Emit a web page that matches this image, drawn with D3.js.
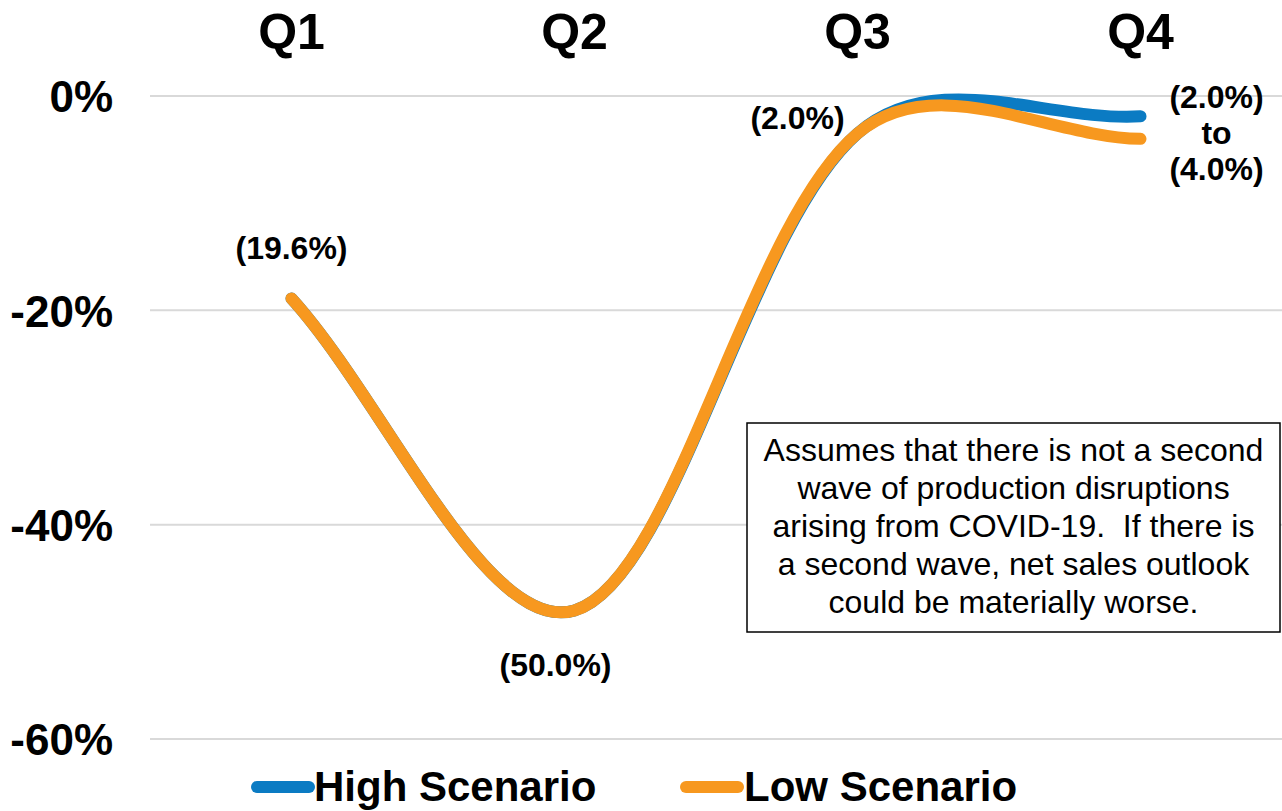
<!DOCTYPE html>
<html>
<head>
<meta charset="utf-8">
<script src="https://cdn.jsdelivr.net/npm/d3@7"></script>
<style>
  html, body { margin: 0; padding: 0; background: #fff; }
  svg { display: block; font-family: "Liberation Sans", Arial, sans-serif; }
</style>
</head>
<body>
<svg id="chart" width="1282" height="811"></svg>
<script>
// ---- data ----
const quarters = ["Q1", "Q2", "Q3", "Q4"];
const highScenario = [-0.189, -0.480, -0.035, -0.019];
const lowScenario  = [-0.189, -0.480, -0.035, -0.040];
const yTicks = [0, -0.2, -0.4, -0.6];
const seriesNames = ["High Scenario", "Low Scenario"];
const seriesColors = ["#0B7BC3", "#F7981F"];
const pointLabels = ["(19.6%)", "(50.0%)", "(2.0%)"];
const endLabels = ["(2.0%)", "to", "(4.0%)"];
const noteLines = [
  "Assumes that there is not a second",
  "wave of production disruptions",
  "arising from COVID-19.  If there is",
  "a second wave, net sales outlook",
  "could be materially worse."
];

// ---- spreadsheet-style smoothed line as a d3 curve factory ----
function SmoothCurve(context) { this._context = context; }
SmoothCurve.prototype = {
  areaStart() { this._line = 0; },
  areaEnd() { this._line = NaN; },
  lineStart() { this._pts = []; },
  point(x, y) { this._pts.push([+x, +y]); },
  lineEnd() {
    const p = this._pts, n = p.length, c = this._context;
    if (!n) return;
    const dist = (a, b) => Math.sqrt(Math.hypot(b[0] - a[0], b[1] - a[1]));
    c.moveTo(p[0][0], p[0][1]);
    for (let i = 0; i < n - 1; i++) {
      const p0 = p[i - 1] || p[i], p1 = p[i], p2 = p[i + 1], p3 = p[i + 2] || p[i + 1];
      const d01 = dist(p0, p1), d12 = dist(p1, p2), d23 = dist(p2, p3);
      const f1 = d01 + d12 > 0 ? (1 / 3) * d12 / (d01 + d12) : 0;
      const f2 = d12 + d23 > 0 ? (1 / 3) * d12 / (d12 + d23) : 0;
      c.bezierCurveTo(
        p1[0] + (p2[0] - p0[0]) * f1, p1[1] + (p2[1] - p0[1]) * f1,
        p2[0] - (p3[0] - p1[0]) * f2, p2[1] - (p3[1] - p1[1]) * f2,
        p2[0], p2[1]);
    }
  }
};
const curveSmooth = ctx => new SmoothCurve(ctx);

// ---- chart ----
const svg = d3.select("#chart");
const x = d3.scaleBand().domain(quarters).range([150, 1282]).padding(0);
const y = d3.scaleLinear().domain([-0.6, 0]).range([739, 96]);
const cx = q => x(q) + x.bandwidth() / 2;

// gridlines
svg.append("g").selectAll("line").data(yTicks).join("line")
  .attr("x1", 150).attr("x2", 1282)
  .attr("y1", d => y(d)).attr("y2", d => y(d))
  .attr("stroke", "#D9D9D9").attr("stroke-width", 2);

// y axis labels
const yAxis = d3.axisLeft(y).tickValues(yTicks).tickSize(0).tickPadding(0)
  .tickFormat(d => d === 0 ? "0%" : d3.format(".0%")(d).replace("−", "-"));
const ya = svg.append("g").attr("transform", "translate(113,0)").call(yAxis);
ya.select(".domain").remove();
ya.selectAll("text")
  .attr("font-family", "Liberation Sans, Arial, sans-serif")
  .attr("font-size", 44).attr("font-weight", "bold").attr("fill", "#000")
  .attr("dy", "0.36em");

// top category labels
const xAxis = d3.axisTop(x).tickSize(0).tickPadding(0);
const xa = svg.append("g").attr("transform", "translate(0,49)").call(xAxis);
xa.select(".domain").remove();
xa.selectAll("text")
  .attr("font-family", "Liberation Sans, Arial, sans-serif")
  .attr("font-size", 50).attr("font-weight", "bold").attr("fill", "#000")
  .attr("dy", 0);

// lines
const line = d3.line()
  .x((d, i) => cx(quarters[i]))
  .y(d => y(d))
  .curve(curveSmooth);
[highScenario, lowScenario].forEach((s, i) => {
  svg.append("path").datum(s)
    .attr("d", line)
    .attr("fill", "none")
    .attr("stroke", seriesColors[i])
    .attr("stroke-width", 12)
    .attr("stroke-linecap", "round")
    .attr("stroke-linejoin", "round");
});

// data labels
const lbl = svg.append("g")
  .attr("font-size", 32).attr("font-weight", "bold").attr("fill", "#000")
  .attr("text-anchor", "middle");
lbl.append("text").attr("x", cx("Q1")).attr("y", 259).text(pointLabels[0]);
lbl.append("text").attr("x", cx("Q2") - 19).attr("y", 676).text(pointLabels[1]);
lbl.append("text").attr("x", cx("Q3") - 60).attr("y", 129).text(pointLabels[2]);
endLabels.forEach((t, i) => {
  lbl.append("text").attr("x", cx("Q4") + 76).attr("y", 108 + i * 36).text(t);
});

// annotation box
const box = { x: 747, y: 423, w: 533, h: 209 };
svg.append("rect")
  .attr("x", box.x).attr("y", box.y).attr("width", box.w).attr("height", box.h)
  .attr("fill", "#fff").attr("stroke", "#000").attr("stroke-width", 1.5);
const note = svg.append("g").attr("font-size", 32).attr("fill", "#000")
  .attr("text-anchor", "middle");
noteLines.forEach((t, i) => {
  note.append("text").attr("x", box.x + box.w / 2).attr("y", 461 + i * 38)
    .attr("xml:space", "preserve").style("white-space", "pre").text(t);
});

// legend
const legendItems = [
  { name: seriesNames[0], color: seriesColors[0], x1: 257, x2: 309, tx: 314 },
  { name: seriesNames[1], color: seriesColors[1], x1: 686, x2: 738, tx: 744 }
];
const lg = svg.append("g");
legendItems.forEach(it => {
  lg.append("line").attr("x1", it.x1).attr("x2", it.x2).attr("y1", 787).attr("y2", 787)
    .attr("stroke", it.color).attr("stroke-width", 12).attr("stroke-linecap", "round");
  lg.append("text").attr("x", it.tx).attr("y", 801)
    .attr("font-size", 42).attr("font-weight", "bold").attr("fill", "#000")
    .text(it.name);
});
</script>
</body>
</html>
